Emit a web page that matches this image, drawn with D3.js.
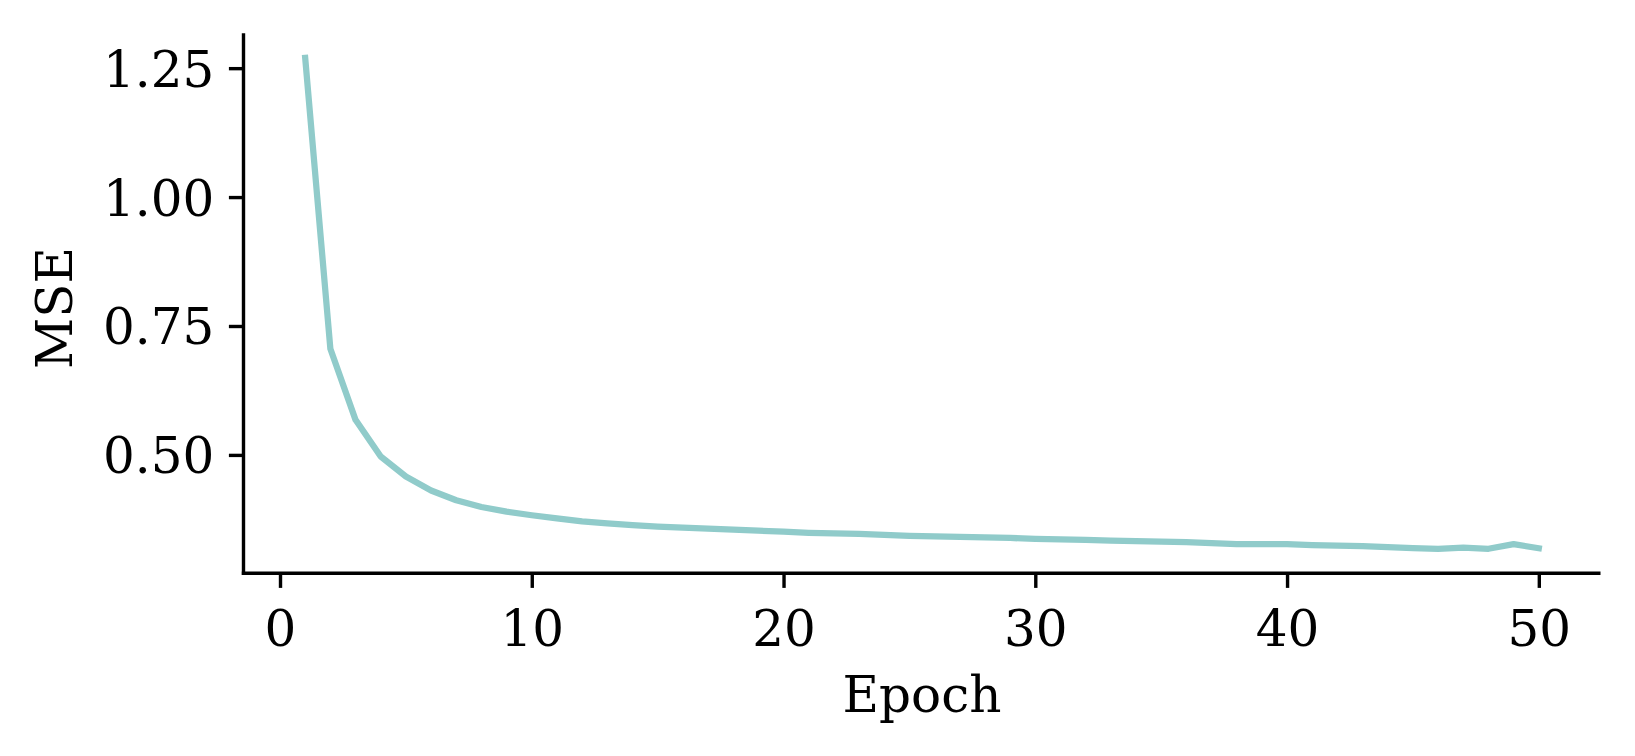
<!DOCTYPE html>
<html>
<head>
<meta charset="utf-8">
<script src="https://cdn.jsdelivr.net/npm/d3@7"></script>
<style>
  body { margin: 0; background: #fff; }
  svg { display: block; }
  text { font-family: "DejaVu Serif", serif; fill: #000; }
</style>
</head>
<body>
<script>
// loss per epoch
const epochs = d3.range(1, 51)
const mse = [
    1.270, 0.706, 0.568, 0.497, 0.458, 0.431, 0.412, 0.399, 0.390, 0.383,
    0.377, 0.371, 0.367, 0.364, 0.361, 0.359, 0.357, 0.355, 0.353, 0.351,
    0.349, 0.348, 0.347, 0.345, 0.343, 0.342, 0.341, 0.340, 0.339, 0.337,
    0.336, 0.335, 0.334, 0.333, 0.332, 0.331, 0.329, 0.327, 0.327, 0.327,
    0.325, 0.324, 0.323, 0.321, 0.319, 0.318, 0.320, 0.318, 0.327, 0.319
]
const xTicks = [0, 10, 20, 30, 40, 50]
const yTicks = [0.50, 0.75, 1.00, 1.25]

const width = 1635, height = 756
const plotLeft = 243.5, plotRight = 1600.5, plotTop = 33.3, plotBottom = 573.3
const fontSize = 50
const tickLen = 14.6, tickPad = 14.6
const spineWidth = 3.4

const svg = d3.select("body").append("svg")
    .attr("width", width)
    .attr("height", height)

// matplotlib style 5% margins
const xPad = (d3.max(epochs) - d3.min(epochs)) * 0.05
const yPad = (d3.max(mse) - d3.min(mse)) * 0.05
const x = d3.scaleLinear()
    .domain([d3.min(epochs) - xPad, d3.max(epochs) + xPad])
    .range([plotLeft, plotRight])
const y = d3.scaleLinear()
    .domain([d3.min(mse) - yPad, d3.max(mse) + yPad])
    .range([plotBottom, plotTop])

// the line
const line = d3.line()
    .x((d, i) => x(epochs[i]))
    .y(d => y(d))
    .curve(d3.curveLinear)

svg.append("path")
    .attr("d", line(mse))
    .attr("fill", "none")
    .attr("stroke", "#90cbca")
    .attr("stroke-width", 6.25)
    .style("stroke-linecap", "square")
    .style("stroke-linejoin", "round")

// x axis
const xAxis = svg.append("g")
    .attr("transform", `translate(0,${plotBottom})`)
    .call(d3.axisBottom(x).tickValues(xTicks).tickSize(tickLen).tickPadding(tickPad).tickFormat(d3.format("d")))
xAxis.select(".domain").remove()
xAxis.selectAll(".tick line").attr("stroke", "#000").attr("stroke-width", spineWidth)
xAxis.selectAll(".tick text")
    .attr("font-size", fontSize)
    .attr("font-family", "DejaVu Serif")
    .attr("dy", null)
    .attr("y", 646 - plotBottom)

// y axis
const yAxis = svg.append("g")
    .attr("transform", `translate(${plotLeft},0)`)
    .call(d3.axisLeft(y).tickValues(yTicks).tickSize(tickLen).tickPadding(tickPad).tickFormat(d3.format(".2f")))
yAxis.select(".domain").remove()
yAxis.selectAll(".tick line").attr("stroke", "#000").attr("stroke-width", spineWidth)
yAxis.selectAll(".tick text")
    .attr("font-size", fontSize)
    .attr("font-family", "DejaVu Serif")
    .attr("dy", "0.36em")

// spines: left and bottom only
svg.append("line")
    .attr("x1", plotLeft).attr("x2", plotLeft)
    .attr("y1", plotTop).attr("y2", plotBottom + spineWidth / 2)
    .attr("stroke", "#000").attr("stroke-width", spineWidth)
svg.append("line")
    .attr("x1", plotLeft - spineWidth / 2).attr("x2", plotRight)
    .attr("y1", plotBottom).attr("y2", plotBottom)
    .attr("stroke", "#000").attr("stroke-width", spineWidth)

// axis labels
svg.append("text")
    .attr("x", (plotLeft + plotRight) / 2)
    .attr("y", 711.5)
    .attr("text-anchor", "middle")
    .attr("font-size", fontSize)
    .text("Epoch")

svg.append("text")
    .attr("transform", `translate(72.3,308) rotate(-90)`)
    .attr("text-anchor", "middle")
    .attr("font-size", fontSize)
    .text("MSE")
</script>
</body>
</html>
